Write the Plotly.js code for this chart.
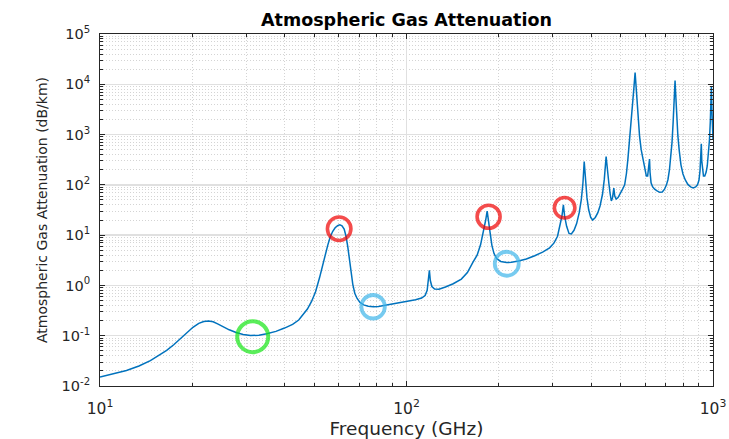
<!DOCTYPE html>
<html><head><meta charset="utf-8">
<script src="https://cdn.plot.ly/plotly-3.0.1.min.js"></script>
<style>html,body{margin:0;padding:0;background:#fff;}#chart{width:729px;height:439px;}</style>
</head><body><div id="chart"></div>
<script>
// Frequency (GHz) and specific attenuation (dB/km)
const frequencyGHz = [
  10, 11, 12.2, 13.4, 14.6, 15.5, 16.5, 17.4, 18.2, 19.2, 20.1, 21.0, 21.8, 22.6, 23.4, 24.2, 25.2, 26.4, 27.8, 29.3,
  31.0, 33.0, 35.0, 37.5, 40.0, 42.5, 44.5, 46.0, 47.5, 49.0, 50.5, 52.0, 53.2, 54.3, 55.3, 56.3, 57.4, 58.5, 59.6, 60.6,
  61.6, 62.6, 63.5, 64.3, 65.1, 65.9, 66.8, 67.8, 69.0, 70.5, 72.5, 75.0, 78.0, 81.0, 86.0, 92.0, 100, 107, 112, 115,
  116.8, 117.9, 118.75, 119.6, 121, 123.5, 127.6, 134, 142, 151, 158, 164.8, 170, 174.5, 178.5, 181.3, 183.3, 185.3, 187.5, 190,
  193, 197, 203, 212, 220, 232, 246, 262, 278, 293, 303, 311, 317, 321.5, 325, 328, 333, 339, 345, 352,
  359, 366, 372, 376.5, 380, 383.5, 388, 393, 399, 405, 413, 421, 428, 436, 442, 448, 453, 457.5, 462, 466,
  470, 474.7, 478, 483, 490, 497, 506, 515, 522, 528, 535, 541, 547, 552, 557, 561, 566, 571, 576, 583,
  591, 599, 606, 612, 617, 620.7, 623, 628, 635, 645, 657, 670, 683, 695, 705, 713, 721, 728, 735, 741,
  746, 750, 752, 755, 759, 763, 768, 776, 786, 798, 812, 828, 845, 862, 878, 890, 900, 907, 912, 916,
  919, 924, 931, 940, 950, 958, 966, 974, 980, 984.5, 988, 992, 996, 1000
];
const attenuationDbKm = [
  0.0151, 0.0175, 0.0204, 0.025, 0.032, 0.040, 0.051, 0.066, 0.085, 0.114, 0.147, 0.176, 0.192, 0.197, 0.190, 0.172, 0.150, 0.131, 0.116, 0.106,
  0.101, 0.102, 0.109, 0.122, 0.142, 0.168, 0.205, 0.26, 0.34, 0.48, 0.75, 1.4, 2.5, 4.0, 6.2, 9.0, 11.8, 14.0, 15.5, 16.0,
  15.3, 13.2, 9.5, 6.0, 3.3, 1.8, 1.05, 0.70, 0.55, 0.46, 0.41, 0.385, 0.375, 0.38, 0.405, 0.44, 0.48, 0.52, 0.56, 0.63,
  0.8, 1.2, 2.0, 1.25, 0.95, 0.85, 0.84, 0.93, 1.08, 1.34, 1.8, 2.9, 4.0, 6.5, 12, 20, 30, 20, 11, 6.2,
  4.3, 3.4, 3.0, 2.85, 2.88, 3.05, 3.35, 3.9, 4.6, 5.6, 7.0, 9.5, 15, 24, 40, 24, 15, 10.8, 10.6, 12.5,
  17, 28, 52, 110, 292, 110, 55, 32, 22.5, 20, 22.5, 28, 38, 65, 130, 367, 170, 105, 65, 48,
  55, 86, 60, 52, 56, 68, 80, 100, 170, 340, 800, 1900, 4200, 8500, 17200, 8500, 3800, 1800, 920, 500,
  316, 205, 150, 150, 210, 325, 180, 110, 92, 82, 76, 71, 72, 82, 100, 128, 200, 340, 700, 1700,
  4000, 8000, 11900, 7000, 3500, 1900, 950, 480, 250, 165, 125, 102, 91, 87, 91, 100, 125, 190, 330, 656,
  300, 190, 150, 150, 180, 240, 380, 800, 1800, 4200, 9000, 3000, 1400, 800
];

// Highlight circles (centre frequency, centre attenuation)
const greenFreq = [31.5];
const greenAtt = [0.0955];
const redFreq = [60.3, 185.3, 328];
const redAtt = [13.4, 23.2, 35];
const blueFreq = [77.8, 212.4];
const blueAtt = [0.377, 2.70];

// Tick labels
const xTickVals = [10, 100, 1000];
const xTickText = ['10<sup>1</sup>', '10<sup>2</sup>', '10<sup>3</sup>'];
const yTickVals = [0.01, 0.1, 1, 10, 100, 1000, 10000, 100000];
const yTickText = ['10<sup>-2</sup>', '10<sup>-1</sup>', '10<sup>0</sup>', '10<sup>1</sup>', '10<sup>2</sup>', '10<sup>3</sup>', '10<sup>4</sup>', '10<sup>5</sup>'];

function minorVals(lo, hi) {
  const v = [];
  for (let e = lo; e < hi; e++) for (let m = 2; m <= 9; m++) v.push(m * Math.pow(10, e));
  return v;
}

const FONT = 'DejaVu Sans, Liberation Sans, Arial, sans-serif';
const AX = '#262626';

const traces = [
  { x: frequencyGHz, y: attenuationDbKm, type: 'scatter', mode: 'lines',
    line: { color: '#0072BD', width: 1.5 }, hoverinfo: 'skip', showlegend: false },
  { x: greenFreq, y: greenAtt, type: 'scatter', mode: 'markers', cliponaxis: false,
    marker: { symbol: 'circle-open', size: [31], color: '#14e614', line: { width: 4 } }, showlegend: false },
  { x: redFreq, y: redAtt, type: 'scatter', mode: 'markers', cliponaxis: false,
    marker: { symbol: 'circle-open', size: [23.5, 23, 20.5], color: '#f00000', line: { width: 3.6 } }, showlegend: false },
  { x: blueFreq, y: blueAtt, type: 'scatter', mode: 'markers', cliponaxis: false,
    marker: { symbol: 'circle-open', size: [23.5, 24], color: '#3db5ea', line: { width: 3.8 } }, showlegend: false }
];

const commonAxis = {
  type: 'log', showline: true, linecolor: AX, linewidth: 1, mirror: 'ticks',
  ticks: 'inside', ticklen: 5, tickcolor: AX, tickwidth: 1,
  showgrid: true, gridcolor: '#e0e0e0', gridwidth: 1.3, zeroline: false,
  tickmode: 'array'
};

const layout = {
  width: 729, height: 439,
  margin: { l: 100, r: 16, t: 34, b: 53, pad: 0 },
  paper_bgcolor: '#ffffff', plot_bgcolor: '#ffffff',
  title: { text: 'Atmospheric Gas Attenuation', font: { family: FONT, size: 17.5, color: '#000', weight: 'bold' },
           x: 0.5, xref: 'paper', xanchor: 'center', y: 1 - 20 / 439, yref: 'container', yanchor: 'middle' },
  xaxis: Object.assign({}, commonAxis, {
    range: [1, 3], tickvals: xTickVals, ticktext: xTickText, ticklabelstandoff: 8,
    tickfont: { family: FONT, size: 15.5, color: AX },
    minor: { tickmode: 'array', tickvals: minorVals(1, 3), ticks: 'inside', ticklen: 3, tickcolor: AX,
             showgrid: true, gridcolor: '#d4d4d4', griddash: '1px,2px', gridwidth: 1 },
    title: { text: 'Frequency (GHz)', font: { family: FONT, size: 18.5, color: AX }, standoff: 6 }
  }),
  yaxis: Object.assign({}, commonAxis, {
    range: [-2, 5], tickvals: yTickVals, ticktext: yTickText, ticklabelstandoff: 6,
    tickfont: { family: FONT, size: 14.5, color: AX },
    minor: { tickmode: 'array', tickvals: minorVals(-2, 5), ticks: 'inside', ticklen: 3, tickcolor: AX,
             showgrid: true, gridcolor: '#d4d4d4', griddash: '1px,2px', gridwidth: 1 },
    title: { text: 'Atmospheric Gas Attenuation (dB/km)', font: { family: FONT, size: 14, color: AX }, standoff: 10 }
  })
};

Plotly.newPlot('chart', traces, layout, { staticPlot: true, displayModeBar: false });
</script>
</body></html>
